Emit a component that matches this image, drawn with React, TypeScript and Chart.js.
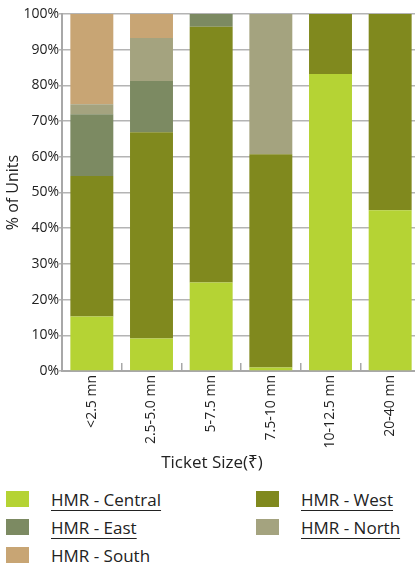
import React, { useEffect, useRef } from "react";
import { Chart, registerables } from "chart.js";

Chart.register(...registerables);

const categories = ["<2.5 mn", "2.5-5.0 mn", "5-7.5 mn", "7.5-10 mn", "10-12.5 mn", "20-40 mn"];
const seriesNames = ["HMR - Central", "HMR - West", "HMR - East", "HMR - North", "HMR - South"];
const central = [15.3, 9.1, 24.8, 1.0, 83.2, 45.0];
const west = [39.3, 57.8, 71.6, 59.7, 16.8, 55.0];
const east = [17.3, 14.3, 3.6, 0, 0, 0];
const north = [2.8, 12.1, 0, 39.3, 0, 0];
const south = [25.3, 6.7, 0, 0, 0, 0];
const colors = ["#b5d334", "#80891e", "#7c8a62", "#a4a37f", "#c8a574"];
const yAxisTitle = "% of Units";
const xAxisTitle = "Ticket Size(₹)";

const FONT = "'Open Sans', 'Noto Sans', sans-serif";

export default function App() {
  const ref = useRef<HTMLCanvasElement | null>(null);

  useEffect(() => {
    if (!ref.current) return;
    const values = [central, west, east, north, south];
    const chart = new Chart(ref.current, {
      type: "bar",
      data: {
        labels: categories,
        datasets: seriesNames.map((name, i) => ({
          label: name,
          data: values[i],
          backgroundColor: colors[i],
          borderWidth: 0,
          barPercentage: 0.72,
          categoryPercentage: 1,
        })),
      },
      options: {
        responsive: false,
        animation: false,
        devicePixelRatio: 1,
        layout: { padding: { top: 14, left: 0, right: 0, bottom: 0 } },
        plugins: {
          legend: { display: false },
          tooltip: { enabled: false },
        },
        scales: {
          x: {
            stacked: true,
            grid: {
              display: true,
              drawOnChartArea: false,
              drawTicks: true,
              tickLength: -8,
              color: "#a8a8a8",
              lineWidth: 1.5,
              offset: true,
            },
            border: { display: true, color: "#a8a8a8", width: 2 },
            ticks: {
              minRotation: 90,
              maxRotation: 90,
              padding: 12,
              color: "#222",
              font: { family: FONT, size: 14 },
            },
            title: { display: false },
            afterFit: (s: any) => {
              s.height = 105;
            },
          },
          y: {
            stacked: true,
            min: 0,
            max: 100,
            grid: {
              color: "#b4b4b4",
              lineWidth: 1.5,
              tickLength: 3,
            },
            border: { display: true, color: "#a8a8a8", width: 2 },
            ticks: {
              stepSize: 10,
              padding: 0,
              color: "#222",
              font: { family: FONT, size: 14 },
              callback: (v: any) => v + "%",
            },
            title: {
              display: true,
              text: yAxisTitle,
              color: "#222",
              font: { family: FONT, size: 16 },
              padding: { top: 4, bottom: 4 },
            },
            afterFit: (s: any) => {
              s.width = 62;
            },
          },
        },
      },
    });
    return () => chart.destroy();
  }, []);

  const legendItemStyle = (i: number): React.CSSProperties => ({
    position: "absolute",
    left: i % 2 === 0 ? 6 : 256,
    top: 488 + Math.floor(i / 2) * 28,
    height: 22,
    display: "flex",
    alignItems: "center",
  });

  return (
    <div
      style={{
        position: "absolute",
        left: 0,
        top: 0,
        width: 415,
        height: 565,
        overflow: "hidden",
        background: "#fff",
      }}
    >
      <canvas ref={ref} width={420} height={476} style={{ position: "absolute", left: 0, top: 0 }} />
      <div
        style={{
          position: "absolute",
          left: 0,
          width: 424,
          top: 451,
          height: 22,
          lineHeight: "22px",
          textAlign: "center",
          fontFamily: FONT,
          fontSize: 17,
          color: "#222",
          whiteSpace: "nowrap",
        }}
      >
        {xAxisTitle}
      </div>
      {seriesNames.map((name, i) => (
        <div key={name} style={legendItemStyle(i)}>
          <span
            style={{
              display: "inline-block",
              width: 23,
              height: 16,
              background: colors[i],
            }}
          />
          <span
            style={{
              marginLeft: 22,
              fontFamily: FONT,
              fontSize: 17,
              color: "#222",
              textDecoration: i < 4 ? "underline" : "none",
              textUnderlineOffset: 4,
              whiteSpace: "nowrap",
            }}
          >
            {name}
          </span>
        </div>
      ))}
    </div>
  );
}
